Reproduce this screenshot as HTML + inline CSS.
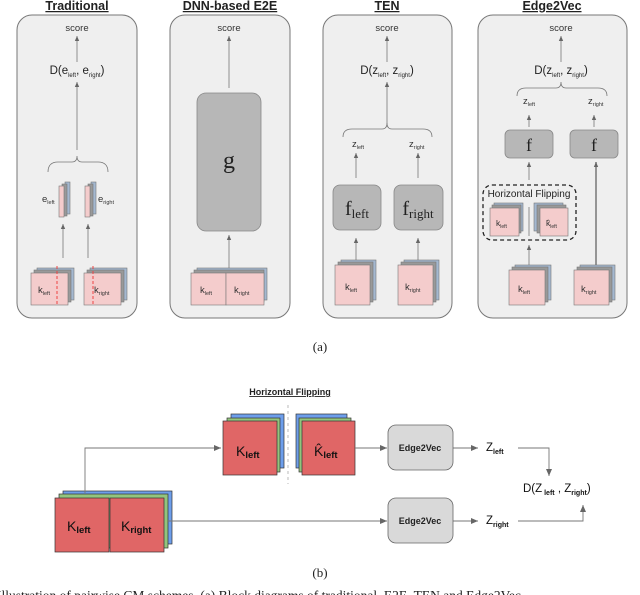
<!DOCTYPE html>
<html><head><meta charset="utf-8"><style>
html,body{margin:0;padding:0;background:#fff;}
svg{display:block}
text{font-family:"Liberation Sans",sans-serif;}
</style></head><body>
<svg width="640" height="595" viewBox="0 0 640 595" xmlns="http://www.w3.org/2000/svg">
<defs>
<marker id="a" markerWidth="6" markerHeight="6" refX="5" refY="3" orient="auto" markerUnits="userSpaceOnUse"><path d="M0,0.8 L5,3 L0,5.2 z" fill="#666"/></marker>
<marker id="b" markerWidth="8" markerHeight="8" refX="7" refY="4" orient="auto" markerUnits="userSpaceOnUse"><path d="M0,1 L7,4 L0,7 z" fill="#666"/></marker>
</defs>

<g font-weight="bold" font-size="12.5" text-decoration="underline" text-anchor="middle" fill="#222">
<text x="77" y="10">Traditional</text>
<text x="230" y="10">DNN-based E2E</text>
<text x="387" y="10">TEN</text>
<text x="552" y="10">Edge2Vec</text>
</g>

<g fill="#efefef" stroke="#777" stroke-width="1">
<rect x="17" y="15" width="120" height="303" rx="15"/>
<rect x="170" y="15" width="120" height="303" rx="15"/>
<rect x="323" y="15" width="129" height="303" rx="15"/>
<rect x="478" y="15" width="149" height="303" rx="15"/>
</g>

<g font-size="9.5" fill="#333" text-anchor="middle">
<text x="77" y="31">score</text>
<text x="229" y="31">score</text>
<text x="387" y="31">score</text>
<text x="561" y="31">score</text>
</g>

<g stroke="#777" stroke-width="0.8" fill="none" marker-end="url(#a)">
<line x1="77" y1="62" x2="77" y2="36"/>
<line x1="77" y1="150" x2="77" y2="82"/>
<line x1="63" y1="258" x2="63" y2="224"/>
<line x1="88" y1="258" x2="88" y2="224"/>
<line x1="229" y1="88" x2="229" y2="36"/>
<line x1="229" y1="268" x2="229" y2="235"/>
<line x1="387" y1="62" x2="387" y2="36"/>
<line x1="387" y1="124" x2="387" y2="82"/>
<line x1="356" y1="178" x2="356" y2="153"/>
<line x1="418" y1="178" x2="418" y2="153"/>
<line x1="356" y1="262" x2="356" y2="238"/>
<line x1="418" y1="262" x2="418" y2="238"/>
<line x1="561" y1="62" x2="561" y2="36"/>
<line x1="529" y1="127" x2="529" y2="115"/>
<line x1="594" y1="127" x2="594" y2="115"/>
<line x1="529" y1="180" x2="529" y2="162"/>
<line x1="529" y1="265" x2="529" y2="245"/>
</g>
<line x1="596" y1="268" x2="596" y2="162" stroke="#777" stroke-width="1.5" marker-end="url(#a)"/>

<g font-size="11.5" fill="#222" text-anchor="middle">
<text x="77" y="74">D(e<tspan font-size="6" dy="3">left</tspan><tspan dy="-3">, e</tspan><tspan font-size="6" dy="3">right</tspan><tspan dy="-3">)</tspan></text>
<text x="387" y="74">D(z<tspan font-size="6" dy="3">left</tspan><tspan dy="-3">, z</tspan><tspan font-size="6" dy="3">right</tspan><tspan dy="-3">)</tspan></text>
<text x="561" y="74">D(z<tspan font-size="6" dy="3">left</tspan><tspan dy="-3">, z</tspan><tspan font-size="6" dy="3">right</tspan><tspan dy="-3">)</tspan></text>
</g>

<g stroke="#777" stroke-width="0.8" fill="none">
<path d="M48,172 Q48,162 58,162 L72,162 Q77,162 77,156 Q77,162 82,162 L98,162 Q108,162 108,172"/>
<path d="M343,137 Q343,129 352,129 L382,129 Q387,129 387,123 Q387,129 392,129 L423,129 Q432,129 432,137"/>
<path d="M517,96 Q517,88 526,88 L556,88 Q561,88 561,82 Q561,88 566,88 L598,88 Q607,88 607,96"/>
</g>

<g stroke="#777" stroke-width="0.6">
<rect x="65" y="182" width="5" height="32" fill="#a4b8d0"/>
<rect x="62" y="184" width="5" height="32" fill="#999"/>
<rect x="59" y="186" width="5" height="31" fill="#f4cccc"/>
<rect x="91" y="182" width="5" height="32" fill="#a4b8d0"/>
<rect x="88" y="184" width="5" height="32" fill="#999"/>
<rect x="85" y="186" width="5" height="31" fill="#f4cccc"/>
</g>
<g font-size="9.5" fill="#333">
<text x="42" y="202">e<tspan font-size="5.5" dy="2">left</tspan></text>
<text x="98" y="202">e<tspan font-size="5.5" dy="2">right</tspan></text>
</g>

<g stroke="#777" stroke-width="0.6">
<rect x="37" y="268" width="37" height="32" fill="#a4b8d0"/><rect x="34" y="270" width="37" height="32" fill="#999"/><rect x="31" y="273" width="37" height="32" fill="#f4cccc"/>
<rect x="90" y="268" width="37" height="32" fill="#a4b8d0"/><rect x="87" y="270" width="37" height="32" fill="#999"/><rect x="84" y="273" width="37" height="32" fill="#f4cccc"/>
<rect x="197" y="268" width="70" height="32" fill="#a4b8d0"/><rect x="194" y="270" width="70" height="32" fill="#999"/>
<rect x="191" y="273" width="35" height="32" fill="#f4cccc"/><rect x="226" y="273" width="38" height="32" fill="#f4cccc"/>
<rect x="341" y="260" width="35" height="40" fill="#a4b8d0"/><rect x="338" y="262" width="35" height="40" fill="#999"/><rect x="335" y="265" width="35" height="40" fill="#f4cccc"/>
<rect x="404" y="260" width="35" height="40" fill="#a4b8d0"/><rect x="401" y="262" width="35" height="40" fill="#999"/><rect x="398" y="265" width="35" height="40" fill="#f4cccc"/>
<rect x="515" y="265" width="36" height="35" fill="#a4b8d0"/><rect x="512" y="267" width="36" height="35" fill="#999"/><rect x="509" y="270" width="36" height="35" fill="#f4cccc"/>
<rect x="580" y="265" width="35" height="35" fill="#a4b8d0"/><rect x="577" y="267" width="35" height="35" fill="#999"/><rect x="574" y="270" width="35" height="35" fill="#f4cccc"/>
<rect x="494" y="203" width="29" height="28" fill="#a4b8d0"/><rect x="492" y="205" width="29" height="28" fill="#999"/><rect x="490" y="208" width="29" height="28" fill="#f4cccc"/>
<rect x="534" y="203" width="29" height="28" fill="#a4b8d0"/><rect x="537" y="205" width="29" height="28" fill="#999"/><rect x="540" y="208" width="28" height="28" fill="#f4cccc"/>
</g>
<g stroke="#e44" stroke-width="1" stroke-dasharray="3,2">
<line x1="57" y1="266" x2="57" y2="305"/><line x1="93" y1="266" x2="93" y2="305"/>
</g>
<line x1="529" y1="207" x2="529" y2="236" stroke="#777" stroke-width="0.8"/>

<g font-size="9.5" fill="#333">
<text x="38" y="293">k<tspan font-size="5.5" dy="2">left</tspan></text>
<text x="94" y="293">k<tspan font-size="5.5" dy="2">right</tspan></text>
<text x="200" y="293">k<tspan font-size="5.5" dy="2">left</tspan></text>
<text x="234" y="293">k<tspan font-size="5.5" dy="2">right</tspan></text>
<text x="345" y="290">k<tspan font-size="5.5" dy="2">left</tspan></text>
<text x="405" y="290">k<tspan font-size="5.5" dy="2">right</tspan></text>
<text x="518" y="292">k<tspan font-size="5.5" dy="2">left</tspan></text>
<text x="581" y="292">k<tspan font-size="5.5" dy="2">right</tspan></text>
<text x="496" y="226" font-size="8.5">k<tspan font-size="5" dy="2">left</tspan></text>
<text x="546" y="226" font-size="8.5">k̂<tspan font-size="5" dy="2">left</tspan></text>
<text x="352" y="147">z<tspan font-size="5.5" dy="2">left</tspan></text>
<text x="409" y="147">z<tspan font-size="5.5" dy="2">right</tspan></text>
<text x="523" y="104">z<tspan font-size="5.5" dy="2">left</tspan></text>
<text x="588" y="104">z<tspan font-size="5.5" dy="2">right</tspan></text>
</g>

<g fill="#b7b7b7" stroke="#888" stroke-width="0.8">
<rect x="197" y="93" width="64" height="138" rx="9"/>
<rect x="333" y="185" width="48" height="45" rx="7"/>
<rect x="394" y="185" width="49" height="45" rx="7"/>
<rect x="505" y="130" width="48" height="28" rx="5"/>
<rect x="570" y="130" width="48" height="28" rx="5"/>
</g>
<g fill="#222" text-anchor="middle" style="font-family:'Liberation Serif',serif">
<text x="229" y="168" font-size="24" style="font-family:'Liberation Serif',serif">g</text>
<text x="357" y="215" font-size="20" style="font-family:'Liberation Serif',serif">f<tspan font-size="13" dy="3">left</tspan></text>
<text x="418" y="215" font-size="20" style="font-family:'Liberation Serif',serif">f<tspan font-size="13" dy="3">right</tspan></text>
<text x="529" y="151" font-size="18" style="font-family:'Liberation Serif',serif">f</text>
<text x="594" y="151" font-size="18" style="font-family:'Liberation Serif',serif">f</text>
</g>
<rect x="483" y="185" width="93" height="55" rx="9" fill="none" stroke="#222" stroke-width="1.3" stroke-dasharray="4,3"/>
<text x="529" y="197" font-size="10" fill="#222" text-anchor="middle">Horizontal Flipping</text>

<text x="320" y="351" font-size="13" text-anchor="middle" style="font-family:'Liberation Serif',serif" fill="#222">(a)</text>

<text x="290" y="395" font-size="9" font-weight="bold" text-decoration="underline" text-anchor="middle" fill="#222">Horizontal Flipping</text>
<line x1="288" y1="405" x2="288" y2="484" stroke="#aaa" stroke-width="0.8" stroke-dasharray="3,3"/>
<g stroke="#333" stroke-width="0.7">
<rect x="231" y="414" width="53" height="54" fill="#6d9eeb"/>
<rect x="227" y="418" width="53" height="54" fill="#93c47d"/>
<rect x="223" y="421" width="54" height="54" fill="#e06666"/>
<rect x="296" y="414" width="51" height="54" fill="#6d9eeb"/>
<rect x="299" y="418" width="52" height="54" fill="#93c47d"/>
<rect x="302" y="421" width="53" height="54" fill="#e06666"/>
<rect x="63" y="491" width="109" height="53" fill="#6d9eeb"/>
<rect x="59" y="494" width="109" height="54" fill="#93c47d"/>
<rect x="55" y="498" width="54" height="54" fill="#e06666"/>
<rect x="110" y="498" width="54" height="54" fill="#e06666"/>
</g>
<g font-size="14" fill="#111">
<text x="236" y="456">K<tspan font-size="9.5" font-weight="bold" dy="2">left</tspan></text>
<text x="314" y="456">K̂<tspan font-size="9.5" font-weight="bold" dy="2">left</tspan></text>
<text x="67" y="531">K<tspan font-size="9.5" font-weight="bold" dy="2">left</tspan></text>
<text x="121" y="531">K<tspan font-size="9.5" font-weight="bold" dy="2">right</tspan></text>
</g>
<g stroke="#777" stroke-width="0.9" fill="none" marker-end="url(#b)">
<polyline points="85,493 85,448 221,448"/>
<line x1="355" y1="448" x2="387" y2="448"/>
<line x1="168" y1="521" x2="387" y2="521"/>
<line x1="453" y1="448" x2="478" y2="448"/>
<line x1="453" y1="521" x2="478" y2="521"/>
<polyline points="518,448 549,448 549,476"/>
<polyline points="518,521 583,521 583,505"/>
</g>
<g fill="#d9d9d9" stroke="#666" stroke-width="0.8">
<rect x="388" y="425" width="65" height="45" rx="8"/>
<rect x="388" y="498" width="65" height="45" rx="8"/>
</g>
<g font-size="9" font-weight="bold" fill="#222" text-anchor="middle">
<text x="420" y="451">Edge2Vec</text>
<text x="420" y="524">Edge2Vec</text>
</g>
<g font-size="11.5" fill="#111">
<text x="486" y="451">Z<tspan font-size="7" font-weight="bold" dy="3">left</tspan></text>
<text x="486" y="524">Z<tspan font-size="7" font-weight="bold" dy="3">right</tspan></text>
<text x="523" y="492">D(Z<tspan font-size="7" font-weight="bold" dy="3"> left</tspan><tspan dy="-3"> , Z</tspan><tspan font-size="7" font-weight="bold" dy="3">right</tspan><tspan dy="-3">)</tspan></text>
</g>
<text x="320" y="577" font-size="13" text-anchor="middle" style="font-family:'Liberation Serif',serif" fill="#222">(b)</text>
<text x="-3" y="600" font-size="13.5" style="font-family:'Liberation Serif',serif" fill="#222">Illustration of pairwise CM schemes. (a) Block diagrams of traditional, E2E, TEN and Edge2Vec</text>
</svg>
</body></html>
